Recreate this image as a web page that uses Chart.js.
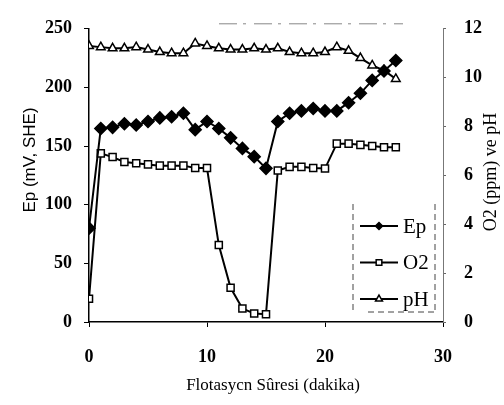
<!DOCTYPE html>
<html><head><meta charset="utf-8">
<script src="https://cdn.jsdelivr.net/npm/chart.js@4.4.0/dist/chart.umd.min.js"></script>
<style>html,body{margin:0;padding:0;background:#fff}#wrap{width:504px;height:405px}</style>
</head><body><div id="wrap"><canvas id="c" width="504" height="405"></canvas></div>
<script>
// ---- data ----
const minutes = [0,1,2,3,4,5,6,7,8,9,10,11,12,13,14,15,16,17,18,19,20,21,22,23,24,25,26];
const epValues = [80,165,166,169,168,171,174,175,178,164,171,165,157,148,141,131,171,178,180,182,180,180,187,195,206,214,223];
const o2Values = [0.95,6.9,6.75,6.55,6.5,6.45,6.4,6.4,6.4,6.3,6.3,3.15,1.4,0.55,0.35,0.32,6.2,6.35,6.35,6.3,6.28,7.3,7.3,7.25,7.2,7.15,7.15];
const phValues = [11.3,11.25,11.2,11.2,11.25,11.15,11.05,11.0,11.0,11.4,11.3,11.2,11.15,11.15,11.2,11.15,11.2,11.05,11.0,11.0,11.05,11.25,11.1,10.8,10.5,10.3,9.95];
const xTicks = [0,10,20,30];
const leftTicks = [0,50,100,150,200,250];
const rightTicks = [0,2,4,6,8,10,12];
const seriesLabels = ['Ep','O2','pH'];
const xTitle = 'Flotasycn Sûresi (dakika)';
const leftTitle = 'Ep (mV, SHE)';
const rightTitle = 'O2 (ppm) ve pH';

const pts = vals => minutes.map((m,i)=>({x:m,y:vals[i]}));
const tickFont = {family:'Liberation Serif', size:18, weight:'bold'};

function drawMarker(ctx, style, x, y, r, fill){
  ctx.save();
  ctx.beginPath();
  if(style==='rectRot'){ const s=r*Math.SQRT1_2; ctx.moveTo(x-s,y);ctx.lineTo(x,y-s);ctx.lineTo(x+s,y);ctx.lineTo(x,y+s);ctx.closePath(); }
  else if(style==='rect'){ const s=r*Math.SQRT1_2; ctx.rect(x-s,y-s,2*s,2*s); }
  else { const s=r; ctx.moveTo(x, y-s); ctx.lineTo(x+s*0.866, y+s*0.5); ctx.lineTo(x-s*0.866, y+s*0.5); ctx.closePath(); }
  ctx.fillStyle=fill; ctx.fill(); ctx.lineWidth=1.5; ctx.strokeStyle='#000'; ctx.stroke();
  ctx.restore();
}

const decor = {
  id:'decor',
  afterDraw(chart){
    const ctx = chart.ctx, a = chart.chartArea;
    ctx.save();
    // faint top border
    ctx.strokeStyle='#888'; ctx.lineWidth=1; ctx.setLineDash([18,6,3,8]);
    ctx.beginPath(); ctx.moveTo(a.left+130, a.top-5); ctx.lineTo(a.right-40, a.top-5); ctx.stroke();
    ctx.setLineDash([]);
    // titles
    ctx.fillStyle='#000'; ctx.textAlign='center'; ctx.textBaseline='middle';
    ctx.font='17px "Liberation Serif"';
    ctx.fillText(xTitle, (a.left+a.right)/2+7, 386);
    ctx.save(); ctx.translate(30, 160); ctx.rotate(-Math.PI/2);
    ctx.font='17px "Liberation Sans"'; ctx.fillText(leftTitle,0,0); ctx.restore();
    ctx.save(); ctx.translate(491, 172); ctx.rotate(-Math.PI/2);
    ctx.font='18px "Liberation Serif"'; ctx.fillText(rightTitle,0,0); ctx.restore();
    // legend frame (broken, no top)
    const lx0 = a.right-90, lx1 = a.right-8, ly0 = a.bottom-118, ly1 = a.bottom-10;
    ctx.strokeStyle='#444'; ctx.lineWidth=1; ctx.setLineDash([6,4]);
    ctx.beginPath();
    ctx.moveTo(lx0, ly0); ctx.lineTo(lx0, ly1);
    ctx.moveTo(lx1, ly0); ctx.lineTo(lx1, ly1);
    ctx.moveTo(lx0+15, ly1); ctx.lineTo(lx1, ly1);
    ctx.stroke();
    ctx.setLineDash([]);
    chart.data.datasets.forEach((ds,i)=>{
      const y = ly0 + 22 + i*36.5;
      ctx.strokeStyle='#000'; ctx.lineWidth=2;
      ctx.beginPath(); ctx.moveTo(lx0+7,y); ctx.lineTo(lx0+45,y); ctx.stroke();
      drawMarker(ctx, ds.pointStyle, lx0+26, y, ds.pointRadius-1, ds.pointBackgroundColor);
      ctx.fillStyle='#000'; ctx.textAlign='left'; ctx.textBaseline='middle';
      ctx.font='21px "Liberation Serif"';
      ctx.fillText(ds.label, lx0+50, y+1);
    });
    ctx.restore();
  }
};

new Chart(document.getElementById('c'), {
  type:'line',
  data:{datasets:[
    {label:seriesLabels[0], data:pts(epValues), yAxisID:'y', borderColor:'#000', borderWidth:2, pointStyle:'rectRot', pointRadius:6, pointBackgroundColor:'#000', pointBorderColor:'#000', pointBorderWidth:1.5, tension:0},
    {label:seriesLabels[1], data:pts(o2Values), yAxisID:'y1', borderColor:'#000', borderWidth:2, pointStyle:'rect', pointRadius:5, pointBackgroundColor:'#fff', pointBorderColor:'#000', pointBorderWidth:1.5, tension:0},
    {label:seriesLabels[2], data:pts(phValues), yAxisID:'y1', borderColor:'#000', borderWidth:2, pointStyle:'triangle', pointRadius:5, pointBackgroundColor:'#fff', pointBorderColor:'#000', pointBorderWidth:1.5, tension:0}
  ]},
  options:{
    responsive:false, animation:false, devicePixelRatio:1,
    layout:{padding:{top:21,left:0,right:0,bottom:0}},
    plugins:{legend:{display:false}, tooltip:{enabled:false}},
    scales:{
      x:{type:'linear', position:'bottom', min:0, max:30,
        afterBuildTicks:s=>{s.ticks=xTicks.map(v=>({value:v}));},
        afterFit:s=>{s.height=83;},
        grid:{drawOnChartArea:false, drawTicks:true, tickLength:5, color:'#000'},
        border:{display:true, color:'#000', width:1.5, dash:[14,4]},
        ticks:{font:tickFont, color:'#000', padding:20, maxRotation:0}},
      y:{type:'linear', position:'left', min:0, max:250,
        afterBuildTicks:s=>{s.ticks=leftTicks.map(v=>({value:v}));},
        afterFit:s=>{s.width=89;},
        grid:{drawOnChartArea:false, drawTicks:true, tickLength:5, color:'#000'},
        border:{display:true, color:'#000', width:1.5, dash:[16,4]},
        ticks:{font:tickFont, color:'#000', padding:12}},
      y1:{type:'linear', position:'right', min:0, max:12,
        afterBuildTicks:s=>{s.ticks=rightTicks.map(v=>({value:v}));},
        afterFit:s=>{s.width=61;},
        grid:{drawOnChartArea:false, drawTicks:true, tickLength:3, color:'#666'},
        border:{display:true, color:'#777', width:1, dash:[2,5]},
        ticks:{font:tickFont, color:'#000', padding:18}}
    }
  },
  plugins:[decor]
});
</script>
</body></html>
